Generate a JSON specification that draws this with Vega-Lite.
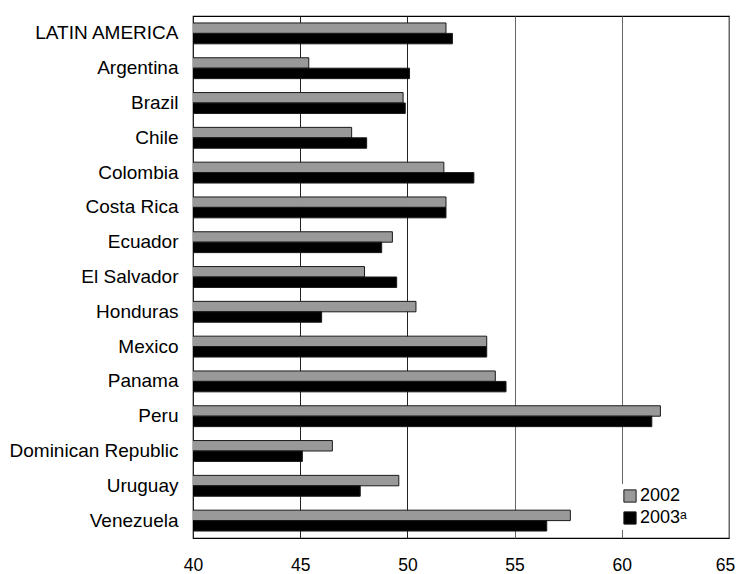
{
  "$schema": "https://vega.github.io/schema/vega-lite/v6.json",
  "width": 536,
  "height": 522,
  "autosize": {"type": "none"},
  "padding": {"left": 193, "top": 16, "right": 8, "bottom": 36},
  "background": "white",
  "config": {
    "view": {"stroke": "#000000", "strokeWidth": 1.2},
    "font": "Liberation Sans"
  },
  "data": {
    "values": [
      {"country": "LATIN AMERICA", "year": "2002", "value": 51.8},
      {"country": "LATIN AMERICA", "year": "2003ᵃ", "value": 52.1},
      {"country": "Argentina", "year": "2002", "value": 45.4},
      {"country": "Argentina", "year": "2003ᵃ", "value": 50.1},
      {"country": "Brazil", "year": "2002", "value": 49.8},
      {"country": "Brazil", "year": "2003ᵃ", "value": 49.9},
      {"country": "Chile", "year": "2002", "value": 47.4},
      {"country": "Chile", "year": "2003ᵃ", "value": 48.1},
      {"country": "Colombia", "year": "2002", "value": 51.7},
      {"country": "Colombia", "year": "2003ᵃ", "value": 53.1},
      {"country": "Costa Rica", "year": "2002", "value": 51.8},
      {"country": "Costa Rica", "year": "2003ᵃ", "value": 51.8},
      {"country": "Ecuador", "year": "2002", "value": 49.3},
      {"country": "Ecuador", "year": "2003ᵃ", "value": 48.8},
      {"country": "El Salvador", "year": "2002", "value": 48.0},
      {"country": "El Salvador", "year": "2003ᵃ", "value": 49.5},
      {"country": "Honduras", "year": "2002", "value": 50.4},
      {"country": "Honduras", "year": "2003ᵃ", "value": 46.0},
      {"country": "Mexico", "year": "2002", "value": 53.7},
      {"country": "Mexico", "year": "2003ᵃ", "value": 53.7},
      {"country": "Panama", "year": "2002", "value": 54.1},
      {"country": "Panama", "year": "2003ᵃ", "value": 54.6},
      {"country": "Peru", "year": "2002", "value": 61.8},
      {"country": "Peru", "year": "2003ᵃ", "value": 61.4},
      {"country": "Dominican Republic", "year": "2002", "value": 46.5},
      {"country": "Dominican Republic", "year": "2003ᵃ", "value": 45.1},
      {"country": "Uruguay", "year": "2002", "value": 49.6},
      {"country": "Uruguay", "year": "2003ᵃ", "value": 47.8},
      {"country": "Venezuela", "year": "2002", "value": 57.6},
      {"country": "Venezuela", "year": "2003ᵃ", "value": 56.5}
    ]
  },
  "mark": {"type": "bar", "stroke": "#1a1a1a", "strokeWidth": 1, "clip": true},
  "encoding": {
    "y": {
      "field": "country",
      "type": "nominal",
      "sort": null,
      "scale": {"paddingInner": 0.4, "paddingOuter": 0.2},
      "axis": {
        "title": null,
        "ticks": false,
        "domain": false,
        "labelPadding": 15,
        "labelFontSize": 19,
        "labelColor": "#000000",
        "labelFont": "Liberation Sans"
      }
    },
    "yOffset": {
      "field": "year",
      "type": "nominal",
      "sort": ["2002", "2003ᵃ"]
    },
    "x": {
      "field": "value",
      "type": "quantitative",
      "scale": {"domain": [40, 65], "nice": false, "zero": false},
      "axis": {
        "title": null,
        "values": [40, 45, 50, 55, 60, 65],
        "ticks": false,
        "domain": false,
        "labelFlush": false,
        "labelOverlap": false,
        "labelPadding": 18,
        "labelDx": -3,
        "labelOffset": {"condition": {"test": "datum.value >= 65", "value": -4}, "value": 0},
        "labelFontSize": 17.5,
        "labelColor": "#000000",
        "labelFont": "Liberation Sans",
        "grid": true,
        "gridColor": {"condition": {"test": "datum.value <= 50", "value": "#222222"}, "value": "#666666"},
        "gridWidth": 1
      }
    },
    "color": {
      "field": "year",
      "type": "nominal",
      "scale": {"domain": ["2002", "2003ᵃ"], "range": ["#999999", "#000000"]},
      "legend": {
        "title": null,
        "orient": "none",
        "legendX": 425,
        "legendY": 468,
        "fillColor": "white",
        "padding": 3,
        "symbolType": "square",
        "symbolSize": 150,
        "symbolStrokeColor": "#1a1a1a",
        "symbolStrokeWidth": 1,
        "labelFontSize": 18,
        "labelColor": "#000000",
        "labelFont": "Liberation Sans",
        "labelOffset": 1,
        "rowPadding": 4
      }
    }
  }
}
